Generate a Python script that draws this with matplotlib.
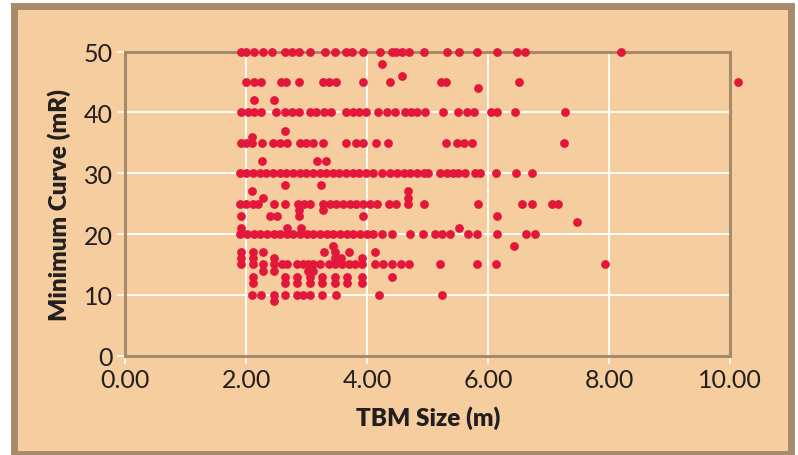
import matplotlib.pyplot as plt
from matplotlib.patches import Rectangle

# TBM size (m) of each machine, grouped by its minimum curve radius (m)
curve_50 = [1.91, 2.00, 2.13, 2.28, 2.42, 2.64, 2.76, 2.87, 3.05, 3.30, 3.46, 3.64, 3.75, 3.93,
            4.21, 4.40, 4.47, 4.58, 4.69, 4.94, 5.31, 5.52, 5.82, 6.14, 6.48, 6.61, 8.19]
curve_48 = [4.25]
curve_46 = [4.58]
curve_45 = [2.00, 2.13, 2.25, 2.57, 2.66, 2.87, 3.26, 3.36, 3.48, 3.93, 4.38, 5.21, 5.30, 6.50, 10.12]
curve_44 = [5.83]
curve_42 = [2.13, 2.46]
curve_40 = [1.91, 2.03, 2.13, 2.25, 2.49, 2.64, 2.76, 2.87, 3.06, 3.16, 3.28, 3.40, 3.65, 3.76,
            3.86, 3.98, 4.17, 4.33, 4.45, 4.62, 4.73, 4.82, 4.95, 5.25, 5.50, 5.64, 5.76, 6.04,
            6.15, 6.44, 7.27]
curve_37 = [2.64]
curve_36 = [2.10]
curve_35 = [1.91, 2.00, 2.10, 2.26, 2.44, 2.55, 2.67, 2.88, 2.99, 3.10, 3.27, 3.65, 3.82, 3.93,
            4.15, 4.35, 5.30, 5.48, 5.60, 5.73, 7.25]
curve_32 = [2.26, 3.17, 3.31]
curve_30 = [1.89, 2.00, 2.11, 2.22, 2.33, 2.44, 2.55, 2.66, 2.77, 2.88, 2.99, 3.10, 3.21, 3.32,
            3.43, 3.54, 3.65, 3.76, 3.87, 3.98, 4.10, 4.24, 4.38, 4.49, 4.60, 4.71, 4.82, 4.93,
            5.01, 5.20, 5.31, 5.42, 5.50, 5.61, 5.78, 5.86, 6.13, 6.46, 6.73]
curve_28 = [2.64, 3.24]
curve_27 = [2.09, 4.68]
curve_26 = [2.28, 4.68]
curve_25 = [1.90, 2.00, 2.11, 2.20, 2.46, 2.64, 2.85, 2.95, 3.05, 3.27, 3.38, 3.49, 3.60, 3.71,
            3.82, 3.93, 4.05, 4.16, 4.36, 4.47, 4.68, 4.94, 5.83, 6.55, 6.73, 7.05, 7.15]
curve_24 = [2.87, 3.26]
curve_23 = [1.91, 2.39, 2.50, 2.87, 3.93, 6.14]
curve_22 = [7.47]
curve_21 = [1.91, 2.68, 2.90, 5.52]
curve_20 = [1.90, 2.01, 2.12, 2.23, 2.34, 2.45, 2.56, 2.67, 2.78, 2.89, 3.00, 3.11, 3.22, 3.33,
            3.44, 3.55, 3.66, 3.77, 3.88, 3.99, 4.10, 4.24, 4.41, 4.71, 4.92, 5.12, 5.23, 5.37,
            5.67, 5.82, 6.14, 6.63, 6.77]
curve_18 = [3.44, 6.43]
curve_17 = [1.92, 2.11, 2.27, 3.28, 3.46, 3.69, 4.13]
curve_16 = [1.92, 2.11, 2.46, 3.46, 3.56, 3.92]
curve_15 = [1.92, 2.11, 2.27, 2.45, 2.59, 2.67, 2.83, 2.94, 3.02, 3.11, 3.22, 3.36, 3.47, 3.58,
            3.69, 3.80, 3.91, 4.13, 4.26, 4.40, 4.56, 4.69, 5.20, 5.82, 6.13, 7.93]
curve_14 = [2.27, 2.46, 3.02, 3.11]
curve_13 = [2.11, 2.64, 2.83, 3.05, 3.25, 3.47, 3.66, 3.92, 4.40]
curve_12 = [2.11, 2.64, 2.83, 3.05, 3.25, 3.47, 3.66, 3.92]
curve_10 = [2.09, 2.25, 2.46, 2.64, 2.83, 2.94, 3.05, 3.25, 3.48, 4.20, 5.24]
curve_9 = [2.46]

groups = {50: curve_50, 48: curve_48, 46: curve_46, 45: curve_45, 44: curve_44, 42: curve_42,
          40: curve_40, 37: curve_37, 36: curve_36, 35: curve_35, 32: curve_32, 30: curve_30,
          28: curve_28, 27: curve_27, 26: curve_26, 25: curve_25, 24: curve_24, 23: curve_23,
          22: curve_22, 21: curve_21, 20: curve_20, 18: curve_18, 17: curve_17, 16: curve_16,
          15: curve_15, 14: curve_14, 13: curve_13, 12: curve_12, 10: curve_10, 9: curve_9}

x_ticks = [0, 2, 4, 6, 8, 10]
y_ticks = [0, 10, 20, 30, 40, 50]

PEACH = '#F6CD9E'
FRAME = '#A68B6B'
RED = '#E2173A'
TEXT = '#231F20'

tbm_size = []
min_curve = []
for curve, sizes in groups.items():
    tbm_size += sizes
    min_curve += [curve] * len(sizes)

W, H = 798, 456
fig = plt.figure(figsize=(W / 100, H / 100), dpi=100)
fig.patch.set_facecolor('white')
# outer brown frame of the figure panel
frame = Rectangle((13.5 / W, 1 - 454.5 / H), (791 - 13.5) / W, (454.5 - 6.7) / H,
                  transform=fig.transFigure, facecolor=PEACH, edgecolor=FRAME,
                  linewidth=5.0, zorder=-1)
fig.add_artist(frame)

ax = fig.add_axes([125.3 / W, 1 - 356.7 / H, (730.3 - 125.3) / W, (356.7 - 52.5) / H])
ax.set_zorder(1)
ax.set_facecolor(PEACH)
ax.set_xlim(0, 10)
ax.set_ylim(0, 50)
ax.set_xticks(x_ticks)
ax.set_xticklabels(['{:.2f}'.format(v) for v in x_ticks])
ax.set_yticks(y_ticks)
ax.grid(color='white', linewidth=1.3)
ax.set_axisbelow(True)
for s in ax.spines.values():
    s.set_color(FRAME)
    s.set_linewidth(2.2)

ax.tick_params(direction='out', length=6, width=1.2, color='white', labelcolor=TEXT,
               labelsize=18, pad=3)
for lbl in ax.get_xticklabels() + ax.get_yticklabels():
    lbl.set_family('Lato')

ax.scatter(tbm_size, min_curve, s=40, color=RED, linewidths=0, zorder=3, clip_on=False)

ax.set_xlabel('TBM Size (m)', fontsize=17.5, fontweight='heavy', family='Lato', color=TEXT, labelpad=10)
ax.set_ylabel('Minimum Curve (mR)', fontsize=17.5, fontweight='heavy', family='Lato', color=TEXT, labelpad=9)

fig.savefig('out.png', dpi=100, facecolor=fig.get_facecolor())
